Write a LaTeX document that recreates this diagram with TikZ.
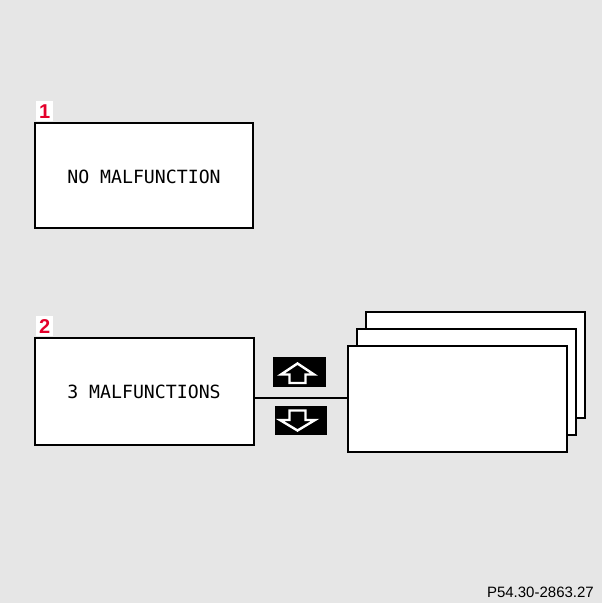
\documentclass[tikz,border=0pt]{standalone}
\usepackage{fontspec}
\setmainfont{Liberation Sans}
\newfontfamily\dispfont{DejaVu Sans Mono}
\definecolor{bg}{HTML}{E6E6E6}
\definecolor{numred}{HTML}{E4002B}
\begin{document}
\begin{tikzpicture}[x=1pt,y=-1pt,
  screen/.style={draw=black,line width=2.7pt,fill=white},
  numlabel/.style={fill=white,text=numred,font=\bfseries\fontsize{20}{20}\selectfont,inner sep=0pt,minimum width=17pt,minimum height=20pt,anchor=south west},
  disp/.style={font=\dispfont\fontsize{18.2}{18}\selectfont,inner sep=0pt},
  btn/.style={fill=black},
  arr/.style={draw=white,line width=2.4pt,line join=miter}]
\useasboundingbox (0,0) rectangle (602,603);
\fill[bg] (0,0) rectangle (602,603);

% panel 1
\draw[screen] (35,123) rectangle (253,228);
\node (b1) at (144,176.5) [disp] {NO MALFUNCTION};
\node (n1) at (36,121.5) [numlabel] {1};

% panel 2
\draw[screen] (35,338) rectangle (254,445);
\coordinate (b2r) at (254,397.5);
\node (b2) at (144,391.5) [disp] {3 MALFUNCTIONS};
\node (n2) at (36,336.5) [numlabel] {2};

% stacked pages
\draw[screen] (366,312) rectangle (585,418);
\draw[screen] (357,329) rectangle (576,435);
\draw[screen] (348,346) rectangle (567,452);
\coordinate (pl) at (348,397.5);

\draw[line width=2pt] (b2r) -- (pl);

% up button
\fill[btn] (273,357) rectangle (326,387);
\draw[arr] (297.5,363.5) -- (314,374.5) -- (305.5,374.5) -- (305.5,383) -- (289.5,383) -- (289.5,374.5) -- (281,374.5) -- cycle;

% down button
\fill[btn] (275,406) rectangle (327,435);
\draw[arr] (289.5,410.5) -- (305.5,410.5) -- (305.5,420) -- (315,420) -- (297.5,430.5) -- (280,420) -- (289.5,420) -- cycle;

\node (cap) at (594,597) [anchor=base east,inner sep=0pt,font=\fontsize{15}{15}\selectfont] {P54.30-2863.27};
\end{tikzpicture}
\end{document}
